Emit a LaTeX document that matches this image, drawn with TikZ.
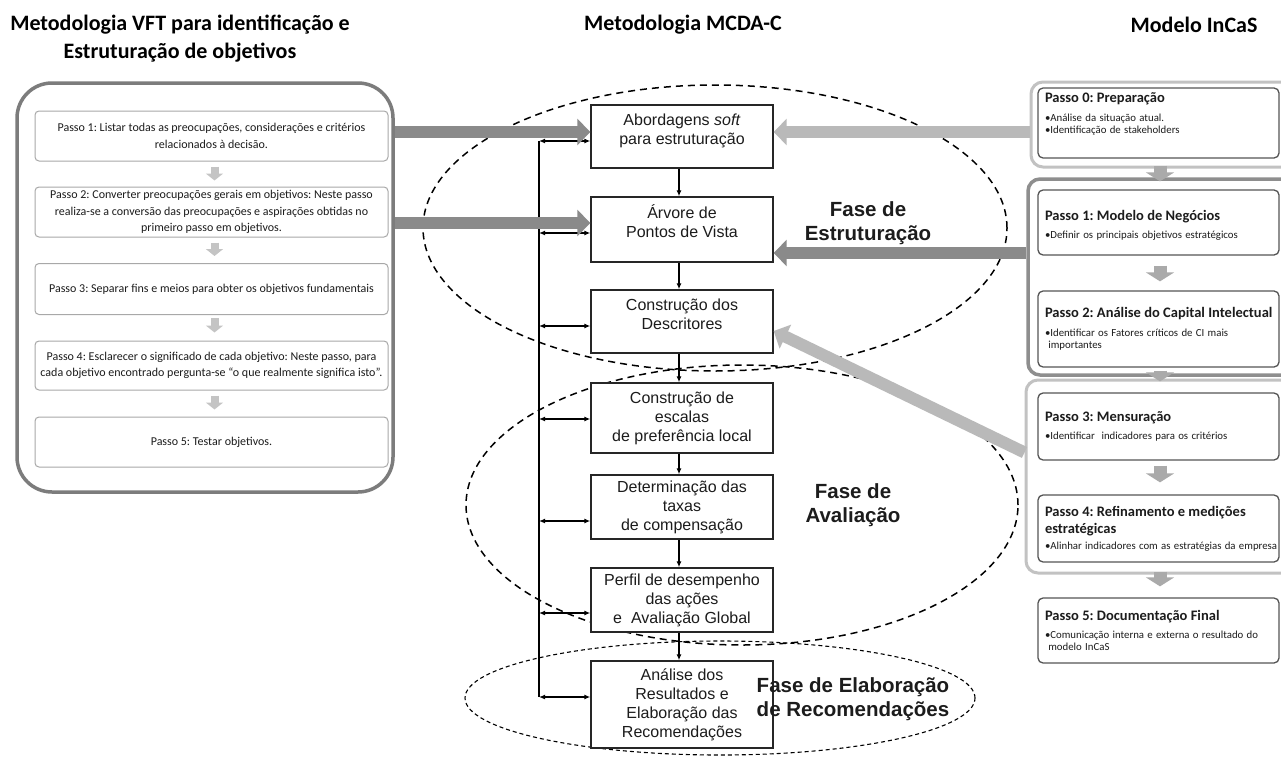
\documentclass[tikz,border=0pt]{standalone}
\usepackage{fontspec}
\setmainfont{Carlito}
\newfontfamily\arialf{Liberation Sans}
\usetikzlibrary{arrows.meta}
\frenchspacing
\hyphenpenalty=10000
\exhyphenpenalty=10000
\definecolor{darkarr}{HTML}{8A8A8A}
\definecolor{lightarr}{HTML}{B9B9B9}
\definecolor{vftarrc}{HTML}{C4C4C4}
\definecolor{boxgray}{HTML}{A8A8A8}
\definecolor{outergray}{HTML}{7C7C7C}
\definecolor{grpdark}{HTML}{8E8E8E}
\definecolor{grplight}{HTML}{C2C2C2}
\definecolor{ink}{HTML}{555555}
\definecolor{iarrc}{HTML}{AAAAAA}
\definecolor{txt}{HTML}{1C1C1C}
\newcommand\fVft{\fontsize{12}{16.5}\selectfont}
\newcommand\fMc{\arialf\fontsize{16}{19}\selectfont}
\newcommand\fPh{\arialf\bfseries\fontsize{20.5}{23.5}\selectfont}
\newcommand\fTtl{\bfseries\fontsize{22}{28}\selectfont}
\newcommand\fIt{\bfseries\fontsize{14.5}{17}\selectfont}
\newcommand\fIb{\mdseries\fontsize{10.8}{13.5}\selectfont}
\tikzset{
 vftouter/.style={draw=outergray, line width=3.5pt, rounded corners=35pt, minimum width=376pt, minimum height=409pt, inner sep=0pt},
 vftbox/.style={draw=boxgray, line width=1pt, rounded corners=4pt, fill=white, minimum width=353pt, inner sep=0pt, align=center, font=\fVft, text=txt},
 vftarr/.style={draw=vftarrc, line width=8pt, -{Triangle[length=7pt,width=17pt]}},
 mbox/.style={draw=black!85, line width=1.4pt, fill=white, minimum width=182pt, inner sep=0pt, align=center, font=\fMc, text=txt},
 marr/.style={line width=1.2pt, -{Latex[length=6pt,width=5pt]}},
 dblarr/.style={line width=1.2pt, {Latex[length=6pt,width=5pt]}-{Latex[length=6pt,width=5pt]}},
 phase/.style={font=\fPh, text=txt},
 bigdark/.style={draw=darkarr, line width=12pt, -{Triangle[length=13pt,width=26pt]}},
 biglight/.style={draw=lightarr, line width=12pt, -{Triangle[length=13pt,width=26pt]}},
 grpbox/.style={line width=3pt, rounded corners=12pt, inner sep=0pt},
 ibox/.style={draw=ink, line width=1.3pt, rounded corners=5pt, fill=white, minimum width=241pt, inner sep=0pt},
 itxt/.style={text width=233pt, align=left, inner sep=0pt, text=txt},
 iarr/.style={draw=iarrc, line width=13pt, -{Triangle[length=9pt,width=28pt]}},
 ttl/.style={font=\fTtl, align=center, text=black},
 dashA/.style={dash pattern=on 7pt off 5pt, line width=1.5pt},
 dashB/.style={dash pattern=on 4pt off 3pt, line width=1.1pt},
}
\begin{document}
\begin{tikzpicture}[x=1pt,y=-1pt]
\useasboundingbox (0,0) rectangle (1281,760);
\clip (0,0) rectangle (1281,760);
\fill[white] (0,0) rectangle (1281,760);

% titles
\node[ttl] (tl) at (180,39) {Metodologia VFT para identificação e\\Estruturação de objetivos};
\node[ttl] (tm) at (683,25) {Metodologia MCDA-C};
\node[ttl] (tr) at (1194,25) {Modelo InCaS};

% ellipses
\draw[dashA] (715,228) ellipse [x radius=292pt, y radius=143pt];
\draw[dashA] (742,505) ellipse [x radius=276pt, y radius=140pt];
\draw[dashB] (720,698) ellipse [x radius=255pt, y radius=57pt];

% VFT column
\node[vftouter] (vft) at (205,287.5) {};
\node[vftbox, minimum height=50pt] (p1) at (211.5,136) {Passo 1: Listar todas as preocupações, considerações e critérios\\relacionados à decisão.};
\node[vftbox, minimum height=50pt] (p2) at (211.5,212) {Passo 2: Converter preocupações gerais em objetivos: Neste passo\\realiza-se a conversão das preocupações e aspirações obtidas no\\primeiro passo em objetivos.};
\node[vftbox, minimum height=51pt] (p3) at (211.5,289) {Passo 3: Separar fins e meios para obter os objetivos fundamentais};
\node[vftbox, minimum height=49pt] (p4) at (211.5,365.5) {Passo 4: Esclarecer o significado de cada objetivo: Neste passo, para\\cada objetivo encontrado pergunta-se “o que realmente significa isto”.};
\node[vftbox, minimum height=50pt] (p5) at (211.5,442) {Passo 5: Testar objetivos.};
\draw[vftarr, shorten <=5pt, shorten >=6pt] ([xshift=3pt]p1.south) -- ([xshift=3pt]p2.north);
\draw[vftarr, shorten <=5pt, shorten >=7pt] ([xshift=3pt]p2.south) -- ([xshift=3pt]p3.north);
\draw[vftarr, shorten <=3pt, shorten >=8pt] ([xshift=3pt]p3.south) -- ([xshift=3pt]p4.north);
\draw[vftarr, shorten <=5pt, shorten >=7pt] ([xshift=3pt]p4.south) -- ([xshift=3pt]p5.north);

% MCDA column
\node[mbox, minimum height=63pt] (b1) at (682,136.5) {Abordagens \textit{soft}\\para estruturação\\[-5pt]};
\node[mbox, minimum height=65pt] (b2) at (682,229.5) {Árvore de\\Pontos de Vista\\[-3pt]};
\node[mbox, minimum height=63pt] (b3) at (682,321.5) {Construção dos\\Descritores\\[-5pt]};
\node[mbox, minimum height=70pt] (b4) at (682,418) {Construção de\\escalas\\de preferência local};
\node[mbox, minimum height=64pt] (b5) at (682,507) {Determinação das\\taxas\\de compensação};
\node[mbox, minimum height=64pt] (b6) at (682,600) {Perfil de desempenho\\das ações\\e\ \ Avaliação Global};
\node[mbox, minimum height=87pt] (b7) at (682,704.5) {Análise dos\\Resultados e\\Elaboração das\\Recomendações};
\foreach \a/\b in {b1/b2,b2/b3,b3/b4,b4/b5,b5/b6,b6/b7}
  \draw[marr] ([xshift=-3pt]\a.south) -- ([xshift=-3pt]\b.north);

\coordinate (v1) at (539,141);
\coordinate (v2) at (539,233);
\coordinate (v3) at (539,326);
\coordinate (v4) at (539,419);
\coordinate (v5) at (539,521);
\coordinate (v6) at (539,613);
\coordinate (v7) at (539,697);
\draw[line width=1.2pt] (v1) -- (v7);
\foreach \i in {1,...,7}
  \draw[dblarr] (v\i) -- (v\i -| b\i.west);

% phase labels
\node[phase, align=center] (f1) at (868,223) {Fase de\\Estruturação};
\node[phase, align=center] (f2) at (853,505) {Fase de\\Avaliação};
\node[phase, align=left] (f3) at (853,699) {Fase de Elaboração\\de Recomendações};

% InCaS column
\node[grpbox, draw=grplight, minimum width=269pt, minimum height=85pt] (gA) at (1165.5,124.5) {};
\node[grpbox, draw=grpdark, line width=3.5pt, minimum width=272pt, minimum height=196pt] (gB) at (1164,277) {};
\node[grpbox, draw=grplight, minimum width=274pt, minimum height=193pt] (gC) at (1163,476.5) {};

\node[ibox, minimum height=70pt] (s0) at (1158.5,123) {};
\node[ibox, minimum height=65pt] (s1) at (1158.5,222.5) {};
\node[ibox, minimum height=76pt] (s2) at (1158.5,329) {};
\node[ibox, minimum height=67pt] (s3) at (1158.5,426.5) {};
\node[ibox, minimum height=67pt] (s4) at (1158.5,528.5) {};
\node[ibox, minimum height=65pt] (s5) at (1158.5,630.5) {};

\node[itxt] (t0) at ([xshift=3pt,yshift=9pt]s0.center) {\fIt Passo 0: Preparação\par\fIb\vspace{5pt}\textbullet Análise da situação atual.\\\textbullet Identificação de stakeholders};
\node[itxt] (t1) at ([xshift=3pt,yshift=-3pt]s1.center) {\fIt Passo 1: Modelo de Negócios\par\fIb\vspace{6pt}\textbullet Definir os principais objetivos estratégicos};
\node[itxt] (t2) at ([xshift=3pt]s2.center) {\fIt Passo 2: Análise do Capital Intelectual\par\fIb\vspace{5pt}\textbullet Identificar os Fatores críticos de CI mais\\\ importantes};
\node[itxt] (t3) at ([xshift=3pt]s3.center) {\fIt Passo 3: Mensuração\par\fIb\vspace{6pt}\textbullet Identificar\ \ indicadores para os critérios};
\node[itxt] (t4) at ([xshift=3pt]s4.center) {\fIt Passo 4: Refinamento e medições\\estratégicas\par\fIb\vspace{4pt}\textbullet Alinhar indicadores com as estratégias da empresa};
\node[itxt] (t5) at ([xshift=3pt]s5.center) {\fIt Passo 5: Documentação Final\par\fIb\vspace{5pt}\textbullet Comunicação interna e externa o resultado do\\\ modelo InCaS};

\draw[iarr, shorten <=7pt, shorten >=8pt] ([xshift=1.5pt]s0.south) -- ([xshift=1.5pt]s1.north);
\draw[iarr, shorten <=10pt, shorten >=9pt] ([xshift=1.5pt]s1.south) -- ([xshift=1.5pt]s2.north);
\draw[iarr, shorten <=3pt, shorten >=11pt] ([xshift=1.5pt]s2.south) -- ([xshift=1.5pt]s3.north);
\draw[iarr, shorten <=5pt, shorten >=12pt] ([xshift=1.5pt]s3.south) -- ([xshift=1.5pt]s4.north);
\draw[iarr, shorten <=9pt, shorten >=11pt] ([xshift=1.5pt]s4.south) -- ([xshift=1.5pt]s5.north);

% big connectors
\coordinate (ya) at (0,132);
\coordinate (yb) at (0,223);
\coordinate (yc) at (0,253);
\draw[bigdark] (vft.east |- ya) -- (b1.west |- ya);
\draw[bigdark] (vft.east |- yb) -- (b2.west |- yb);
\draw[biglight] (gA.west |- ya) -- (b1.east |- ya);
\draw[bigdark] (gB.west |- yc) -- (b2.east |- yc);
\draw[biglight] ([yshift=24pt]gC.west) -- ([yshift=-9.5pt]b3.east);
\end{tikzpicture}
\end{document}
